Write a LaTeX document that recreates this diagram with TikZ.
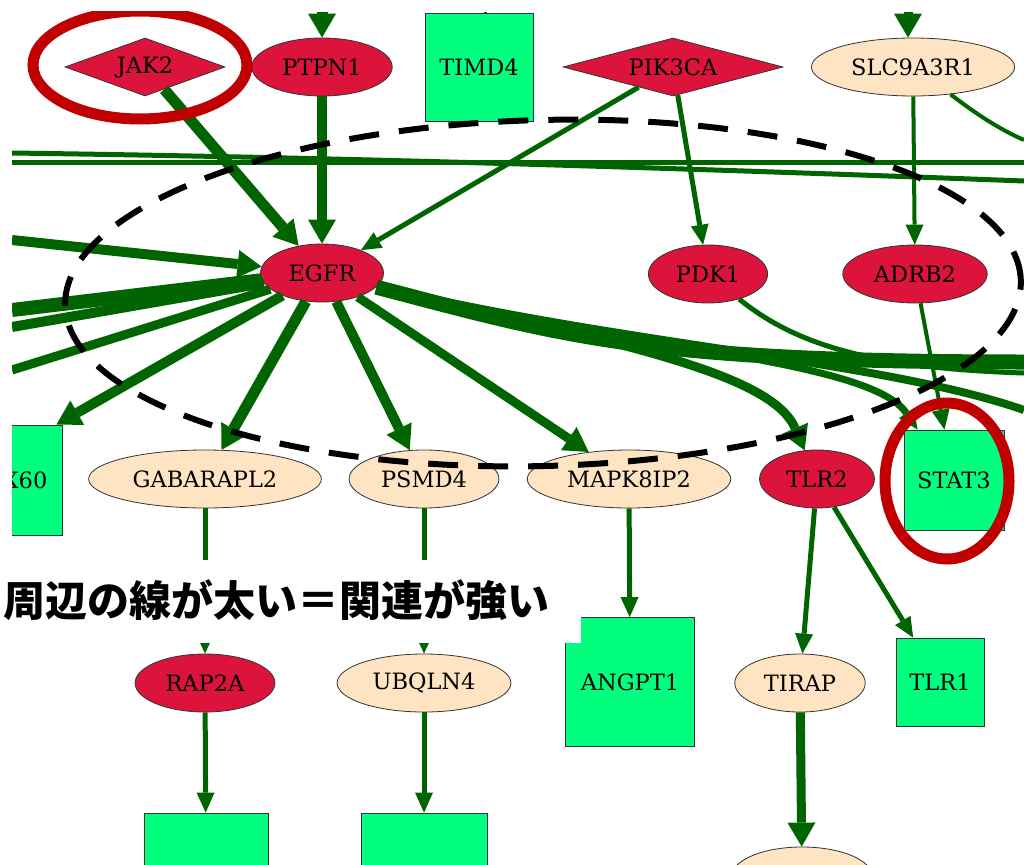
\documentclass[tikz,border=0pt]{standalone}
\usepackage{fontspec}
\setmainfont{DejaVu Serif}
\newfontfamily\jpfont{Noto Sans CJK JP}
\usepackage{tikz}
\usetikzlibrary{shapes.geometric,arrows.meta}

\definecolor{edgegreen}{HTML}{006400}
\definecolor{genered}{HTML}{DC143C}
\definecolor{genetan}{HTML}{FFE4C4}
\definecolor{genebox}{HTML}{00FF7F}
\definecolor{ringred}{HTML}{C00000}

\tikzset{
  gene/.style={draw=black!80, line width=0.8pt, inner sep=0pt,
    font=\fontsize{22.5}{26}\selectfont},
  oval/.style={gene, ellipse, inner xsep=10pt, minimum height=58pt},
  redoval/.style={oval, fill=genered},
  tanoval/.style={oval, fill=genetan},
  kite/.style={gene, diamond, aspect=3.5, fill=genered, minimum height=58pt},
  box/.style={gene, rectangle, fill=genebox, minimum size=#1},
  link/.style={draw=edgegreen, line width=#1},
  bigtip/.style={-{Triangle[length=24pt,width=28pt,line width=0pt]}},
  midtip/.style={-{Triangle[length=20pt,width=18pt,line width=0pt]}},
  smalltip/.style={-{Triangle[length=14pt,width=13pt,line width=0pt]}},
  ring/.style={draw=ringred, line width=11pt},
}

\begin{document}
\begin{tikzpicture}[x=1pt,y=-1pt]
    \useasboundingbox[fill=white] (0,0) rectangle (1024,864);
    \begin{scope}
        \clip (12,12) rectangle (1024,864);
        % genes
        \node[kite, minimum width=160pt] (JAK2) at (145,67) {JAK2};
        \node[redoval] (PTPN1) at (322,67) {PTPN1};
        \node[box=108pt] (TIMD4) at (479,67) {TIMD4};
        \node[kite, minimum width=220pt] (PIK3CA) at (673,67) {PIK3CA};
        \node[tanoval] (SLC9A3R1) at (913,67) {SLC9A3R1};
        \node[redoval] (EGFR) at (322,273) {EGFR};
        \node[redoval] (PDK1) at (708,274) {PDK1};
        \node[redoval] (ADRB2) at (915,274) {ADRB2};
        \node[box=110pt] (DDX60) at (7,480) {DDX60};
        \node[tanoval] (GABARAPL2) at (205,479) {GABARAPL2};
        \node[tanoval] (PSMD4) at (424,479) {PSMD4};
        \node[tanoval] (MAPK8IP2) at (629,479) {MAPK8IP2};
        \node[redoval] (TLR2) at (817,479) {TLR2};
        \node[box=100pt] (STAT3) at (954,480) {STAT3};
        \node[redoval] (RAP2A) at (205,683) {RAP2A};
        \node[tanoval] (UBQLN4) at (424,683) {UBQLN4};
        \node[box=129pt] (ANGPT1) at (630,682) {ANGPT1};
        \node[tanoval] (TIRAP) at (800,683) {TIRAP};
        \node[box=88pt] (TLR1) at (940,682) {TLR1};
        \node[box=124pt] (boxR) at (206,875) {};
        \node[box=126pt] (boxU) at (424,876) {};
        \node[tanoval, minimum width=140pt] (ovalB) at (802,876) {};

        % loose ends at the border
        \coordinate (inP) at (322,12);
        \coordinate (inT) at (485,12);
        \coordinate (inS) at (908,12);
        \coordinate (wA) at (12,153);
        \coordinate (eA) at (1024,181);
        \coordinate (wB) at (12,162);
        \coordinate (eB) at (1024,162);
        \coordinate (wE1) at (12,240);
        \coordinate (wE2) at (12,310);
        \coordinate (wE3) at (12,327);
        \coordinate (wE4) at (12,370);
        \coordinate (eS) at (1024,140);
        \coordinate (eT) at (1024,362);
        \coordinate (eP) at (1024,373);
        \coordinate (eU) at (1024,410);

        \draw[link=11, bigtip] (inP) -- (PTPN1);
        \draw[link=3] (inT) -- (inT |- TIMD4.north);
        \draw[link=9, bigtip] (inS) -- (inS |- SLC9A3R1.north);
        \draw[link=5] (wA) .. controls (300,157) and (600,165) .. (eA);
        \draw[link=5] (wB) -- (eB);
        \draw[link=4] (SLC9A3R1) .. controls (965,105) and (990,125) .. (eS);

        \draw[link=11, bigtip] (JAK2) -- (EGFR);
        \draw[link=10, bigtip] (PTPN1) -- (EGFR);
        \draw[link=5, midtip] (PIK3CA) -- (EGFR);
        \draw[link=5, midtip] (PIK3CA) -- (PDK1);
        \draw[link=4, midtip] (SLC9A3R1) -- (ADRB2);

        \draw[link=10, bigtip] (wE1) -- (EGFR);
        \draw[link=14] (wE2) -- (EGFR);
        \draw[link=10] (wE3) -- (EGFR);
        \draw[link=9] (EGFR) -- (wE4);
        \draw[link=10, bigtip] (EGFR) -- ([xshift=-6pt]DDX60.north east);
        \draw[link=11, bigtip] (EGFR) -- (GABARAPL2);
        \draw[link=10, bigtip] (EGFR) -- (PSMD4);
        \draw[link=9, bigtip] (EGFR) -- (MAPK8IP2);

        \draw[link=15] (EGFR) .. controls (560,335) and (640,362) .. (eT);
        \draw[link=8] (EGFR) .. controls (620,345) and (880,360) .. (eU);
        \draw[link=9, bigtip] (EGFR) .. controls (600,340) and (770,370) .. (TLR2);
        \draw[link=7, midtip] (EGFR) .. controls (640,350) and (870,360) .. ([xshift=14pt]STAT3.north west);
        \draw[link=5] (PDK1) .. controls (790,340) and (860,368) .. (eP);
        \draw[link=4, midtip] (ADRB2) -- (STAT3);

        \draw[link=5, smalltip] (GABARAPL2) -- (RAP2A);
        \draw[link=5, smalltip] (PSMD4) -- (UBQLN4);
        \draw[link=5, midtip] (MAPK8IP2) -- (ANGPT1);
        \draw[link=5, midtip] (TLR2) -- (TIRAP);
        \draw[link=5, midtip] (TLR2) -- (TLR1);
        \draw[link=5, midtip] (RAP2A) -- (boxR);
        \draw[link=5, midtip] (UBQLN4) -- (boxU);
        \draw[link=9, bigtip] (TIRAP) -- (ovalB);

        % marks on top
        \draw[black, line width=6pt, dash pattern=on 30pt off 20pt, rotate around={1.5:(543,293)}]
            (543,293) ellipse [x radius=478pt, y radius=173pt];
        \draw[ring] (140,65) ellipse [x radius=107pt, y radius=54pt];
        \draw[ring] (947,481) ellipse [x radius=62pt, y radius=78pt];
    \end{scope}
    \fill[white] (0,560) rectangle (581,643);
    \node[anchor=west, inner sep=0pt, font=\jpfont\bfseries\fontsize{42}{48}\selectfont] (note) at (3,600) {周辺の線が太い＝関連が強い};
\end{tikzpicture}
\end{document}
